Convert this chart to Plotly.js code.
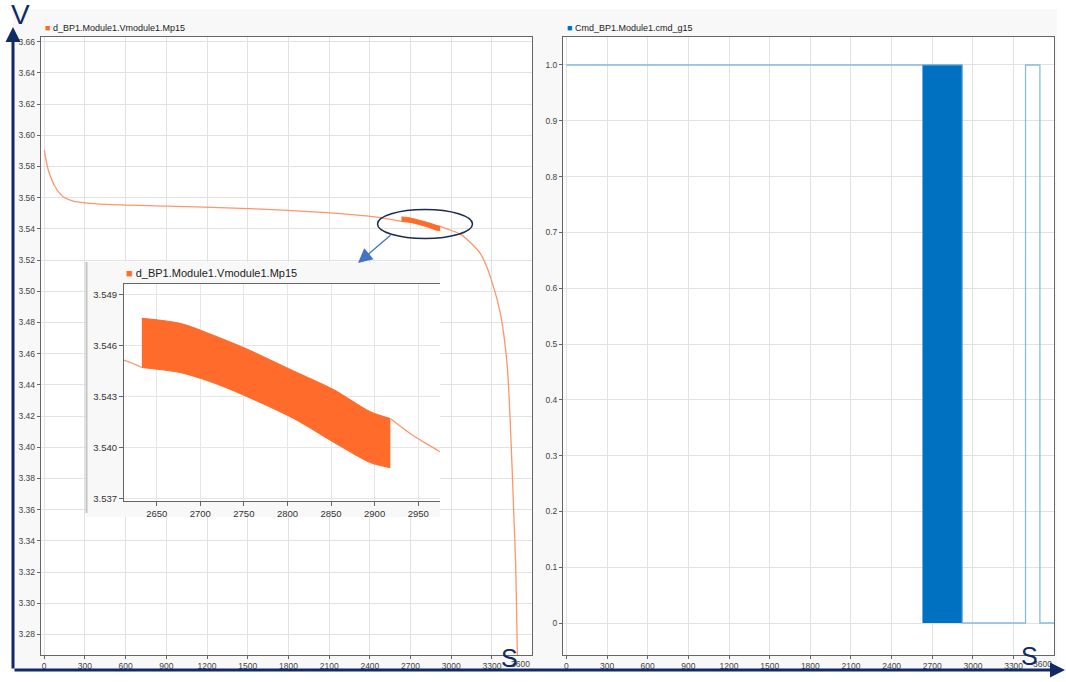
<!DOCTYPE html>
<html><head><meta charset="utf-8">
<script src="https://cdn.plot.ly/plotly-3.0.1.min.js"></script>
<style>html,body{margin:0;padding:0;background:#fff;} #chart{width:1066px;height:682px;}</style>
</head><body><div id="chart"></div>
<script>
// ---------- data ----------
const seriesVoltName = 'd_BP1.Module1.Vmodule1.Mp15';
const seriesCmdName = 'Cmd_BP1.Module1.cmd_g15';

const preTime = [0, 30, 80, 140, 215, 300, 460, 900, 1345, 1790, 2130, 2425, 2614, 2633];
const preVolt = [3.5905, 3.5777, 3.5670, 3.5606, 3.5578, 3.5567, 3.5557, 3.5546, 3.5535, 3.5519, 3.5501, 3.5478, 3.5451, 3.5447];

const bandTime  = [2633, 2677, 2715, 2753, 2807, 2853, 2895, 2918];
const bandUpper = [3.5476, 3.5473, 3.5466, 3.5458, 3.5445, 3.5434, 3.5421, 3.5417];
const bandLower = [3.5447, 3.5444, 3.5438, 3.5430, 3.5417, 3.5403, 3.5391, 3.5388];

const postTime = [2918, 2944, 2973, 3064, 3150, 3212, 3260, 3300, 3340, 3371, 3413, 3438, 3457, 3475, 3486, 3494];
const postVolt = [3.5417, 3.5407, 3.5398, 3.5368, 3.5305, 3.5245, 3.5160, 3.5060, 3.4940, 3.4815, 3.4516, 3.4091, 3.3662, 3.3234, 3.2721, 3.2200];

const cmdTime  = [0, 2628, 2920, 3388, 3494, 3598];
const cmdValue = [1, 1, 0, 1, 0, 0];
const switchStart = 2628;
const switchEnd = 2920;

const timeTicks = [0, 300, 600, 900, 1200, 1500, 1800, 2100, 2400, 2700, 3000, 3300, 3600];
const voltTicks = [3.28, 3.30, 3.32, 3.34, 3.36, 3.38, 3.40, 3.42, 3.44, 3.46, 3.48, 3.50, 3.52, 3.54, 3.56, 3.58, 3.60, 3.62, 3.64, 3.66];
const cmdTicks = [0, 0.1, 0.2, 0.3, 0.4, 0.5, 0.6, 0.7, 0.8, 0.9, 1.0];
const cmdTickText = ['0', '0.1', '0.2', '0.3', '0.4', '0.5', '0.6', '0.7', '0.8', '0.9', '1.0'];
const insetTimeTicks = [2650, 2700, 2750, 2800, 2850, 2900, 2950];
const insetVoltTicks = [3.537, 3.540, 3.543, 3.546, 3.549];

// ---------- styles ----------
const W = 1066, H = 682;
const FONT = 'Liberation Sans, Arial, sans-serif';
const ORANGE = '#ff6b2b', ORANGE_LINE = '#ff956a';
const BLUE = '#0070c0', BLUE_LINE = '#86bbe4';
const NAVY = '#0f2a66';
const px = v => v / W;
const py = v => 1 - v / H;

const leftXRange = [-26, 3595], leftYRange = [3.2668, 3.6628];
const leftDomX = [px(40.7), px(532)], leftDomY = [py(655), py(37.3)];

const axisBase = {
  showgrid: true, gridcolor: '#e2e2e2', gridwidth: 1, zeroline: false,
  showline: true, linecolor: '#666', linewidth: 1, mirror: true,
  ticks: 'outside', ticklen: 3, tickcolor: '#666',
  tickfont: {family: FONT, size: 8.5, color: '#444'}, fixedrange: true
};

// helpers: pixel -> left-plot data coordinates (used for the inset frame)
function lx(p) { return leftXRange[0] + (p / W - leftDomX[0]) / (leftDomX[1] - leftDomX[0]) * (leftXRange[1] - leftXRange[0]); }
function ly(p) { return leftYRange[0] + (py(p) - leftDomY[0]) / (leftDomY[1] - leftDomY[0]) * (leftYRange[1] - leftYRange[0]); }

const lineTrace = (x, y, xa, ya, w) => ({x, y, xaxis: xa, yaxis: ya, type: 'scatter', mode: 'lines',
  line: {color: ORANGE_LINE, width: w, shape: 'spline', smoothing: 0.8}, hoverinfo: 'skip', showlegend: false});
const bandTraces = (xa, ya) => ([
  {x: bandTime, y: bandLower, xaxis: xa, yaxis: ya, type: 'scatter', mode: 'lines', line: {color: ORANGE, width: 1, shape: 'spline', smoothing: 0.8}, showlegend: false, hoverinfo: 'skip'},
  {x: bandTime, y: bandUpper, xaxis: xa, yaxis: ya, type: 'scatter', mode: 'lines', fill: 'tonexty', fillcolor: ORANGE, line: {color: ORANGE, width: 1, shape: 'spline', smoothing: 0.8}, showlegend: false, hoverinfo: 'skip'}
]);

const data = [
  lineTrace(preTime, preVolt, 'x', 'y', 1.3),
  ...bandTraces('x', 'y'),
  lineTrace(postTime, postVolt, 'x', 'y', 1.3),
  {x: cmdTime, y: cmdValue, xaxis: 'x2', yaxis: 'y2', type: 'scatter', mode: 'lines', line: {color: BLUE_LINE, width: 1.3, shape: 'hv'}, showlegend: false, hoverinfo: 'skip'},
  {x: [switchStart, switchStart, switchEnd, switchEnd], y: [0, 1, 1, 0], xaxis: 'x2', yaxis: 'y2', type: 'scatter', mode: 'lines', fill: 'toself', fillcolor: BLUE, line: {color: '#6aaee0', width: 1}, showlegend: false, hoverinfo: 'skip'},
  lineTrace(preTime, preVolt, 'x3', 'y3', 1.3),
  ...bandTraces('x3', 'y3'),
  lineTrace(postTime, postVolt, 'x3', 'y3', 1.3)
];

const layout = {
  width: W, height: H, margin: {l: 0, r: 0, t: 0, b: 0},
  paper_bgcolor: '#f8f8f8', plot_bgcolor: '#ffffff',
  font: {family: FONT, color: '#333'},
  showlegend: false,
  xaxis: Object.assign({}, axisBase, {domain: leftDomX, range: leftXRange, tickvals: timeTicks, anchor: 'y'}),
  yaxis: Object.assign({}, axisBase, {domain: leftDomY, range: leftYRange, tickvals: voltTicks, tickformat: '.2f', anchor: 'x'}),
  xaxis2: Object.assign({}, axisBase, {domain: [px(563), px(1054)], range: [-25, 3598], tickvals: timeTicks, anchor: 'y2'}),
  yaxis2: Object.assign({}, axisBase, {domain: leftDomY, range: [-0.0573, 1.0496], tickvals: cmdTicks, ticktext: cmdTickText, anchor: 'x2'}),
  xaxis3: Object.assign({}, axisBase, {domain: [px(124), px(440)], range: [2612.5, 2975], tickvals: insetTimeTicks, anchor: 'y3',
    gridcolor: '#e6e6e6', ticklen: 4, mirror: true, tickfont: {family: FONT, size: 9.5, color: '#333'}}),
  yaxis3: Object.assign({}, axisBase, {domain: [py(501), py(284.3)], range: [3.53684, 3.5496], tickvals: insetVoltTicks, tickformat: '.3f', anchor: 'x3',
    gridcolor: '#e6e6e6', ticklen: 4, mirror: false, tickfont: {family: FONT, size: 9.5, color: '#333'}}),
  shapes: [
    // white surroundings of the grey chart panel
    {type: 'rect', xref: 'paper', yref: 'paper', x0: -0.01, x1: 1.01, y0: py(9.3), y1: 1.01, fillcolor: '#fff', line: {width: 0}, layer: 'below'},
    {type: 'rect', xref: 'paper', yref: 'paper', x0: -0.01, x1: 1.01, y0: -0.01, y1: py(669), fillcolor: '#fff', line: {width: 0}, layer: 'below'},
    {type: 'rect', xref: 'paper', yref: 'paper', x0: -0.01, x1: px(13), y0: -0.01, y1: 1.01, fillcolor: '#fff', line: {width: 0}, layer: 'below'},
    {type: 'rect', xref: 'paper', yref: 'paper', x0: px(1057), x1: 1.01, y0: -0.01, y1: 1.01, fillcolor: '#fff', line: {width: 0}, layer: 'below'},
    // inset frame
    {type: 'rect', xref: 'x', yref: 'y', x0: lx(86), x1: lx(440), y0: ly(517), y1: ly(262), fillcolor: '#f8f8f8', line: {width: 0}, layer: 'between'},
    {type: 'line', xref: 'x', yref: 'y', x0: lx(86.5), x1: lx(86.5), y0: ly(513), y1: ly(262), line: {color: '#c4c4c4', width: 2}, layer: 'between'},
    // ellipse highlight
    {type: 'circle', xref: 'paper', yref: 'paper', x0: px(377.5), x1: px(472.5), y0: py(238.5), y1: py(209.5), line: {color: '#1b2a55', width: 1.5}, layer: 'above'}
  ],
  annotations: [
    {xref: 'paper', yref: 'paper', x: px(43), y: py(28), xanchor: 'left', yanchor: 'middle', showarrow: false,
      text: '<span style="color:' + ORANGE + '">■</span> ' + seriesVoltName, font: {family: FONT, size: 9, color: '#222'}},
    {xref: 'paper', yref: 'paper', x: px(565), y: py(28), xanchor: 'left', yanchor: 'middle', showarrow: false,
      text: '<span style="color:' + BLUE + '">■</span> ' + seriesCmdName, font: {family: FONT, size: 9, color: '#222'}},
    {xref: 'paper', yref: 'paper', x: px(124), y: py(273), xanchor: 'left', yanchor: 'middle', showarrow: false,
      text: '<span style="color:' + ORANGE + '">■</span> ' + seriesVoltName, font: {family: FONT, size: 11, color: '#222'}},
    {xref: 'x domain', yref: 'y domain', x: 1, y: 0, xanchor: 'right', yanchor: 'top', yshift: -2, showarrow: false,
      text: String(timeTicks[timeTicks.length - 1]), font: {family: FONT, size: 8.5, color: '#444'}},
    {xref: 'x2 domain', yref: 'y2 domain', x: 1, y: 0, xanchor: 'right', yanchor: 'top', yshift: -2, showarrow: false,
      text: String(timeTicks[timeTicks.length - 1]), font: {family: FONT, size: 8.5, color: '#444'}},
    // axis arrows and letters
    {xref: 'paper', yref: 'paper', x: px(13), y: py(27), ax: 0, ay: 643, text: '', showarrow: true, arrowhead: 2, arrowsize: 1, arrowwidth: 3, arrowcolor: NAVY, standoff: 0},
    {xref: 'paper', yref: 'paper', x: px(1065), y: py(670), ax: -1052, ay: 0, text: '', showarrow: true, arrowhead: 2, arrowsize: 1, arrowwidth: 3, arrowcolor: NAVY, standoff: 0},
    {xref: 'paper', yref: 'paper', x: px(20), y: py(15), xanchor: 'center', yanchor: 'middle', showarrow: false, text: 'V', font: {family: FONT, size: 28, color: NAVY}},
    {xref: 'paper', yref: 'paper', x: px(509), y: py(658), xanchor: 'center', yanchor: 'middle', showarrow: false, text: 'S', font: {family: FONT, size: 25, color: NAVY}},
    {xref: 'paper', yref: 'paper', x: px(1029), y: py(656), xanchor: 'center', yanchor: 'middle', showarrow: false, text: 'S', font: {family: FONT, size: 25, color: NAVY}},
    // pointer from ellipse to inset
    {xref: 'paper', yref: 'paper', x: px(358), y: py(263), ax: 34, ay: -29, text: '', showarrow: true, arrowhead: 2, arrowsize: 2.2, arrowwidth: 1.3, arrowcolor: '#4472c4', standoff: 0}
  ]
};

Plotly.newPlot('chart', data, layout, {displayModeBar: false, staticPlot: true});
</script></body></html>
